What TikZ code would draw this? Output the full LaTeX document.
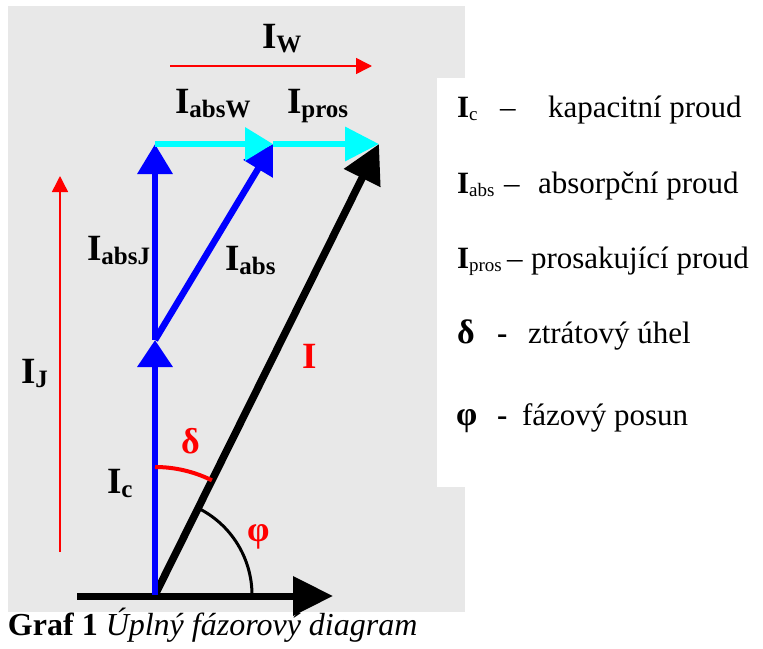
\documentclass[tikz,border=0pt]{standalone}
\usepackage{fontspec}
\setmainfont{Liberation Serif}
\usetikzlibrary{arrows.meta}
\definecolor{bggray}{RGB}{232,232,232}
\definecolor{vblue}{RGB}{0,0,255}
\definecolor{vcyan}{RGB}{0,255,255}
\definecolor{vred}{RGB}{255,0,0}
\newcommand\vlab[2]{\fontsize{37}{37}\selectfont\bfseries #1\raisebox{-4pt}{\fontsize{25}{25}\selectfont #2}}
\newcommand\legsym[2]{\fontsize{31}{31}\selectfont\textbf{#1}\raisebox{-3pt}{\fontsize{19}{19}\selectfont #2}}
\begin{document}
\begin{tikzpicture}[x=1pt,y=-1pt,
  lbl/.style={anchor=base west,inner sep=0pt,outer sep=0pt},
  leg/.style={anchor=base west,inner sep=0pt,outer sep=0pt,font=\fontsize{31}{31}\selectfont},
  bluevec/.style={vblue,line width=6.5pt},
  cyanvec/.style={vcyan,line width=6.5pt},
  blackvec/.style={black,line width=7.5pt},
  redguide/.style={vred,line width=1.5pt,-{Triangle[length=16pt,width=16pt]}}]
\useasboundingbox (0,0) rectangle (763,648);
\fill[bggray] (8,6) rectangle (465,612);
\fill[white] (437,78) rectangle (763,487);
% points
\coordinate (O) at (155,595);
\coordinate (A) at (155,340);
\coordinate (B) at (155,144);
\coordinate (C) at (273,144);
\coordinate (D) at (379,144);
\coordinate (axL) at (77,596);
\coordinate (axR) at (333,596);
\coordinate (wL) at (170,66);
\coordinate (wR) at (372,66);
\coordinate (jB) at (60,552);
\coordinate (jT) at (60,176);
% red guides
\draw[redguide] (wL) -- (wR);
\draw[redguide] (jB) -- (jT);
% axis
\draw[black,line width=7pt,-{Triangle[length=40pt,width=38pt]}] (axL) -- (axR);
% vectors
\draw[blackvec,-{Triangle[length=38pt,width=39pt]}] (O) -- (D);
\draw[bluevec,-{Triangle[length=27pt,width=34pt]}] (O) -- (A);
\draw[bluevec,-{Triangle[length=30pt,width=34pt]}] (A) -- (B);
\draw[bluevec,-{Triangle[length=29pt,width=33pt]}] (A) -- (C);
\draw[cyanvec,-{Triangle[length=28pt,width=32pt]}] (B) -- (C);
\draw[cyanvec,-{Triangle[length=34pt,width=33pt]}] (C) -- (D);
% angle arcs
\draw[vred,line width=4pt] (O) ++(0,-128) arc[start angle=-90,end angle=-63.6,radius=128];
\draw[black,line width=3pt] (O) ++(97,0) arc[start angle=0,end angle=-63.6,radius=97];
% labels
\node[lbl] (lW) at (262,48) {\vlab{I}{W}};
\node[lbl] (lAbsW) at (175,113) {\vlab{I}{absW}};
\node[lbl] (lPros) at (287,113) {\vlab{I}{pros}};
\node[lbl] (lAbsJ) at (87,260) {\vlab{I}{absJ}};
\node[lbl] (lAbs) at (225,270) {\vlab{I}{abs}};
\node[lbl,text=vred] (lI) at (302,368) {\fontsize{37}{37}\selectfont\bfseries I};
\node[lbl] (lJ) at (21,383) {\vlab{I}{J}};
\node[lbl,text=vred] (lDelta) at (181,453) {\fontsize{36}{36}\selectfont\bfseries δ};
\node[lbl] (lC) at (107,493) {\vlab{I}{c}};
\node[lbl,text=vred] (lPhi) at (247,541) {\fontsize{36}{36}\selectfont\bfseries φ};
% legend
\node[lbl] (s1) at (457,117) {\legsym{I}{c}};
\node[leg] (d1) at (500,117) {–};
\node[leg] (t1) at (548,117) {kapacitní proud};
\node[lbl] (s2) at (457,193) {\legsym{I}{abs}};
\node[leg] (d2) at (504,193) {–};
\node[leg] (t2) at (538,193) {absorpční proud};
\node[lbl] (s3) at (457,268) {\legsym{I}{pros}};
\node[leg] (d3) at (507,268) {–};
\node[leg] (t3) at (531,268) {prosakující proud};
\node[lbl] (s4) at (457,343) {\fontsize{34}{34}\selectfont\bfseries δ};
\node[leg] (d4) at (497,343) {\bfseries -};
\node[leg] (t4) at (528,343) {ztrátový úhel};
\node[lbl] (s5) at (456,425) {\fontsize{34}{34}\selectfont\bfseries φ};
\node[leg] (d5) at (497,425) {\bfseries -};
\node[leg] (t5) at (522,425) {fázový posun};
% caption
\node[lbl] (cap) at (8,635) {\fontsize{32}{32}\selectfont\textbf{Graf 1} \textit{Úplný fázorový diagram}};
\end{tikzpicture}
\end{document}
